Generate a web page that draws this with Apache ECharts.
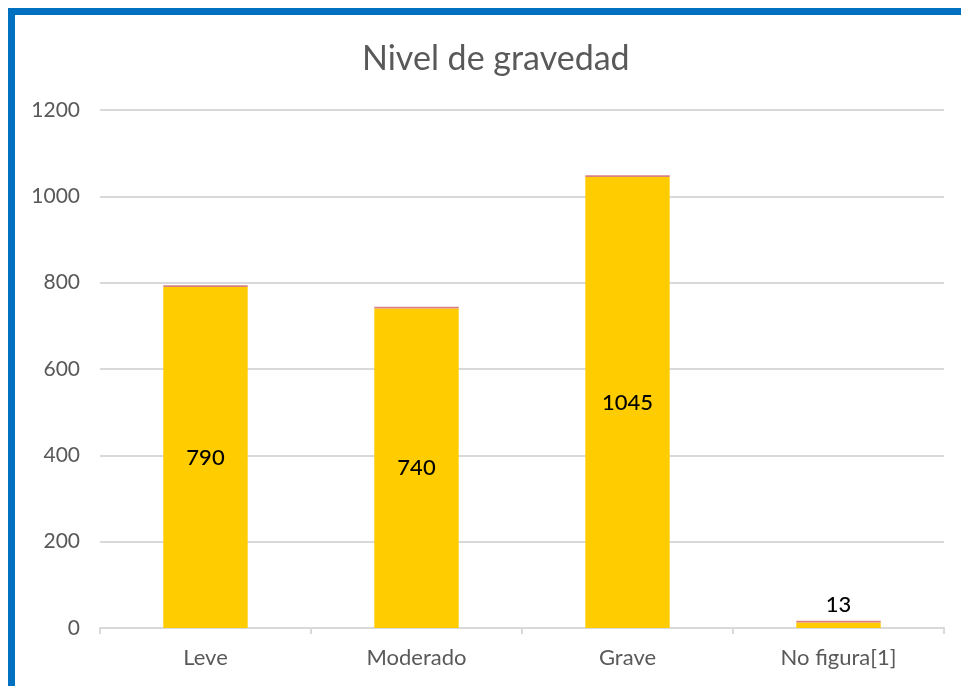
<!DOCTYPE html>
<html>
<head>
<meta charset="utf-8">
<script src="https://cdn.jsdelivr.net/npm/echarts@6/dist/echarts.min.js"></script>
<style>
html,body{margin:0;padding:0;background:#fff;}
#frame{position:absolute;left:8px;top:8px;width:953px;height:678px;border-top:7px solid #0070C0;border-left:7px solid #0070C0;box-sizing:border-box;}
#chart{position:absolute;left:0;top:0;width:961px;height:686px;}
</style>
</head>
<body>
<div id="frame"></div>
<div id="chart"></div>
<script>
const categories = ['Leve', 'Moderado', 'Grave', 'No figura[1]'];
const values = [790, 740, 1045, 13];
const topEdge = [4, 4, 4, 4];
const yTicks = { min: 0, max: 1200, interval: 200 };
const titleText = 'Nivel de gravedad';

const font = 'Lato, "Open Sans", sans-serif';
const chart = echarts.init(document.getElementById('chart'), null, { renderer: 'canvas' });
const dataWithLabels = values.map(v => v < 100 ? { value: v, label: { position: 'top', distance: 6 } } : v);
chart.setOption({
  animation: false,
  title: {
    text: titleText,
    left: 357,
    top: 37,
    textStyle: { fontFamily: font, fontSize: 34, fontWeight: 'normal', color: '#595959' }
  },
  grid: { left: 100, right: 17, top: 110, bottom: 58 },
  xAxis: {
    type: 'category',
    data: categories,
    axisLine: { lineStyle: { color: '#d9d9d9', width: 2 } },
    axisTick: { show: true, alignWithLabel: false, length: 6, lineStyle: { color: '#d9d9d9', width: 2 } },
    axisLabel: { fontFamily: font, fontSize: 22, color: '#595959', margin: 19 }
  },
  yAxis: {
    type: 'value',
    min: yTicks.min, max: yTicks.max, interval: yTicks.interval,
    axisLine: { show: false },
    axisTick: { show: false },
    splitLine: { lineStyle: { color: '#d9d9d9', width: 2 } },
    axisLabel: { fontFamily: font, fontSize: 21, color: '#595959', margin: 20, formatter: v => String(v) }
  },
  series: [
    {
      type: 'bar',
      stack: 'a',
      data: dataWithLabels,
      barWidth: '40%',
      itemStyle: { color: '#FFCC00' },
      label: {
        show: true,
        fontFamily: font, fontSize: 22, fontWeight: 500, color: '#000',
        position: 'inside',
        formatter: p => p.value
      }
    },
    {
      type: 'bar',
      stack: 'a',
      data: topEdge,
      barWidth: '40%',
      itemStyle: { color: '#D98080' },
      silent: true
    }
  ]
});
</script>
</body>
</html>
